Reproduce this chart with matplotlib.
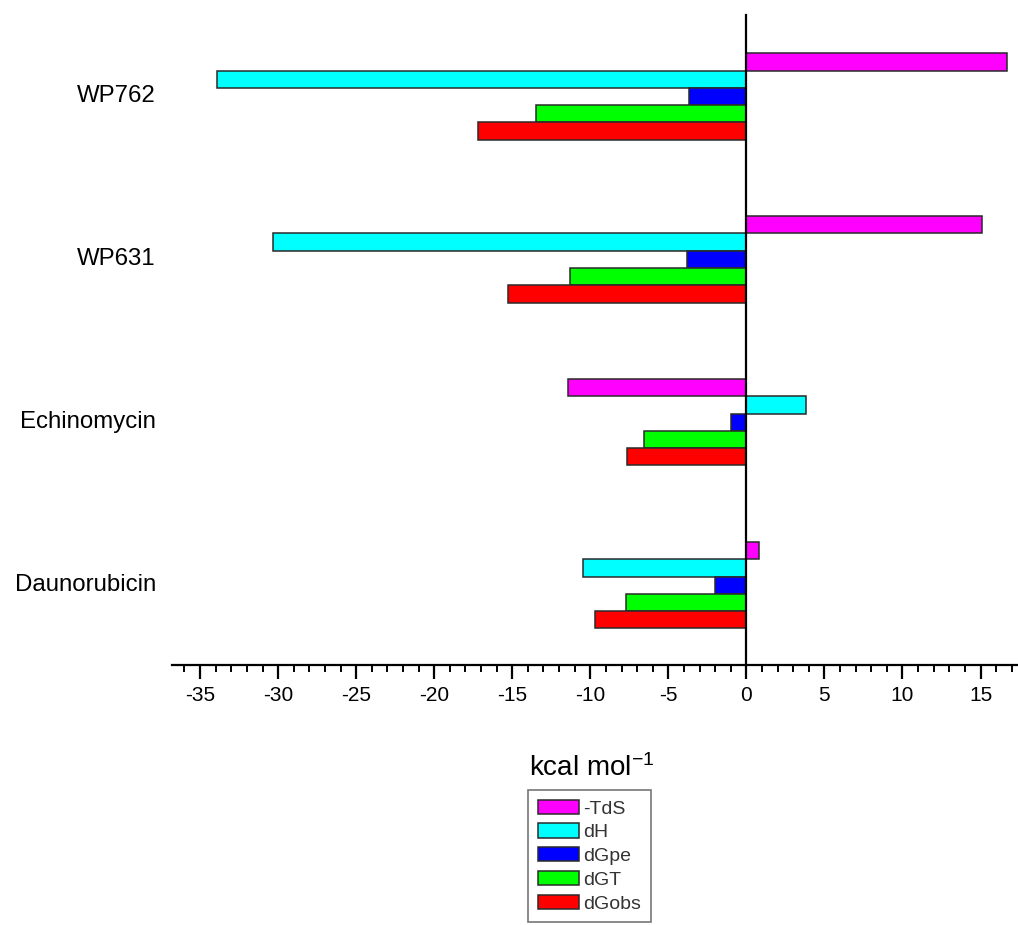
import matplotlib
matplotlib.use("Agg")
import matplotlib.pyplot as plt
import numpy as np
from matplotlib.ticker import MultipleLocator

plt.rcParams['font.family'] = ['Liberation Sans', 'DejaVu Sans']
plt.rcParams['mathtext.fontset'] = 'custom'
plt.rcParams['mathtext.rm'] = 'Liberation Sans'

categories = ["Daunorubicin", "Echinomycin", "WP631", "WP762"]
series_names = ["-TdS", "dH", "dGpe", "dGT", "dGobs"]
series_colors = ["#FF00FF", "#00FFFF", "#0000FF", "#00FF00", "#FF0000"]
minus_TdS = [0.8, -11.4, 15.1, 16.7]
dH = [-10.5, 3.8, -30.3, -33.9]
dGpe = [-2.0, -1.0, -3.8, -3.65]
dGT = [-7.7, -6.55, -11.3, -13.5]
dGobs = [-9.7, -7.65, -15.3, -17.2]
series_values = [minus_TdS, dH, dGpe, dGT, dGobs]
xticks = [-35, -30, -25, -20, -15, -10, -5, 0, 5, 10, 15]

fig = plt.figure(figsize=(10.18, 9.25), dpi=100)
ax = fig.add_axes([172/1018, 1-665/925, 1-172/1018, (665-15)/925])

y = np.arange(len(categories))
h = 0.106
offsets = [2, 1, 0, -1, -2]
for name, vals, col, off in zip(series_names, series_values, series_colors, offsets):
    ax.barh(y + off*h, vals, height=h, color=col, edgecolor='#2a2a2a',
            linewidth=1.1, label=name, zorder=2)

ax.set_xlim(-36.8, 17.4)
ax.set_ylim(-0.49, 3.5)

for s in ['top', 'right']:
    ax.spines[s].set_visible(False)
ax.spines['left'].set_position(('data', 0))
ax.spines['left'].set_linewidth(1.6)
ax.spines['left'].set_zorder(3)
ax.spines['bottom'].set_linewidth(1.6)
ax.set_yticks([])

ax.set_xticks(xticks)
ax.set_xticklabels([str(t) for t in xticks])
ax.xaxis.set_minor_locator(MultipleLocator(1))
ax.tick_params(axis='x', which='major', direction='out', length=10, width=1.6,
               labelsize=15, pad=5)
ax.tick_params(axis='x', which='minor', direction='out', length=5, width=1.4)

trans = matplotlib.transforms.blended_transform_factory(fig.transFigure, ax.transData)
for yi, cat in zip(y, categories):
    fig.text(156/1018, yi, cat, transform=trans, ha='right', va='center', fontsize=17.3)

fig.text(592/1018, 1-768/925, r'kcal mol$\mathregular{^{-1}}$', ha='center', va='center', fontsize=20)

handles, labels = ax.get_legend_handles_labels()
leg = fig.legend(handles, labels, loc='upper left', bbox_to_anchor=(528/1018, 1-790/925),
                 bbox_transform=fig.transFigure, borderaxespad=0, fancybox=False,
                 frameon=True, edgecolor='#555555', fontsize=14, handlelength=2.1,
                 handleheight=0.75, labelspacing=0.3, handletextpad=0.25,
                 borderpad=0.5)
leg.get_frame().set_linewidth(1.2)
for t in leg.get_texts():
    t.set_color('#333333')

fig.savefig('out.png', dpi=100)
